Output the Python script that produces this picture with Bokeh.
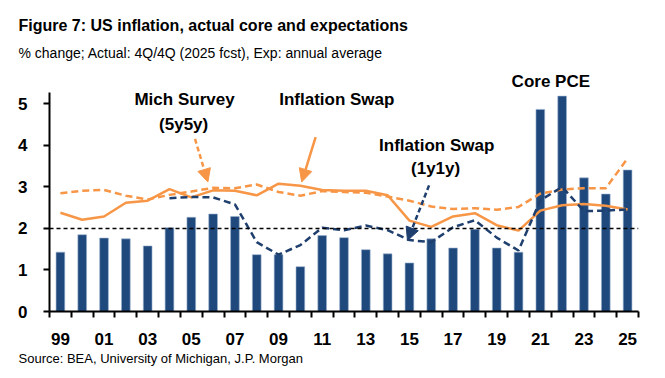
from bokeh.plotting import figure
from bokeh.models import Range1d, FixedTicker, Label, Arrow, NormalHead, Span, Title
from bokeh.embed import file_html
from bokeh.resources import INLINE

years = ["99", "00", "01", "02", "03", "04", "05", "06", "07", "08", "09", "10", "11", "12",
         "13", "14", "15", "16", "17", "18", "19", "20", "21", "22", "23", "24", "25"]
core_pce = [1.43, 1.85, 1.77, 1.75, 1.58, 2.02, 2.27, 2.35, 2.29, 1.37, 1.37, 1.08, 1.83, 1.78,
            1.49, 1.39, 1.17, 1.75, 1.53, 1.98, 1.53, 1.43, 4.87, 5.19, 3.22, 2.83, 3.41]
mich_5y5y = [2.85, 2.91, 2.93, 2.79, 2.70, 2.81, 2.89, 2.98, 2.97, 3.06, 2.88, 2.79, 2.90, 2.88,
             2.86, 2.77, 2.67, 2.53, 2.47, 2.49, 2.45, 2.52, 2.84, 2.94, 2.97, 2.97, 3.69]
swap_5y5y = [2.38, 2.21, 2.29, 2.62, 2.67, 2.95, 2.75, 2.92, 2.91, 2.80, 3.08, 3.03, 2.93, 2.91,
             2.91, 2.80, 2.19, 2.04, 2.29, 2.37, 2.08, 1.95, 2.43, 2.56, 2.59, 2.55, 2.46]
swap_1y1y_years = ["04", "05", "06", "07", "08", "09", "10", "11", "12", "13", "14", "15", "16",
                   "17", "18", "19", "20", "21", "22", "23", "24", "25"]
swap_1y1y = [2.73, 2.76, 2.75, 2.58, 1.67, 1.37, 1.60, 2.02, 1.96, 2.07, 1.96, 1.72, 1.67,
             2.03, 2.20, 1.78, 1.47, 2.68, 3.00, 2.42, 2.43, 2.46]
y_ticks = [0, 1, 2, 3, 4, 5]
target = 2

NAVY = "#1F497D"
ORANGE = "#F79646"
LINE_NAVY = "#1F3F6E"
FONT = "Liberation Sans"

xi = list(range(len(years)))
xi_1y1y = [years.index(y) for y in swap_1y1y_years]

p = figure(width=665, height=378, output_backend="svg", toolbar_location=None,
           x_range=Range1d(-0.5, len(years) - 0.5), y_range=Range1d(0, 5.807),
           min_border_left=49, min_border_right=27, min_border_top=70, min_border_bottom=67)
p.outline_line_color = None
p.grid.grid_line_color = None
p.background_fill_color = "white"
p.border_fill_color = "white"

p.vbar(x=xi, top=core_pce, width=0.4, fill_color=NAVY, line_color="#9DB3CF", line_width=0.6)
p.add_layout(Span(location=target, dimension="width", line_color="black",
                  line_dash="4 3", line_width=1.5))
p.line(xi, mich_5y5y, line_color=ORANGE, line_width=2.5, line_dash="7 4")
p.line(xi, swap_5y5y, line_color=ORANGE, line_width=2.5)
p.line(xi_1y1y, swap_1y1y, line_color=LINE_NAVY, line_width=2.5, line_dash="7 4")

# axes
xa = p.xaxis[0]
xa.ticker = FixedTicker(ticks=xi[::2], minor_ticks=[i - 0.5 for i in range(len(years) + 1)])
xa.major_label_overrides = {i: years[i] for i in xi[::2]}
xa.major_tick_line_color = None
xa.minor_tick_line_color = "black"
xa.minor_tick_line_width = 2
xa.minor_tick_out = 6
xa.minor_tick_in = 0
xa.axis_line_width = 2
xa.major_label_standoff = 15
xa.major_label_text_font = FONT
xa.major_label_text_font_style = "bold"
xa.major_label_text_font_size = "17px"
xa.major_label_text_color = "black"

ya = p.yaxis[0]
ya.ticker = FixedTicker(ticks=y_ticks)
ya.bounds = (0, 5.28)
ya.major_tick_out = 6
ya.major_tick_in = 0
ya.major_tick_line_width = 2
ya.minor_tick_line_color = None
ya.axis_line_width = 2
ya.major_label_standoff = 16
ya.major_label_text_font = FONT
ya.major_label_text_font_style = "bold"
ya.major_label_text_font_size = "17px"
ya.major_label_text_color = "black"


def lab(x, y, text, size, bold=True, align="center", baseline="middle"):
    p.add_layout(Label(x=x, y=y, text=text, text_font=FONT, text_font_size=size,
                       text_font_style="bold" if bold else "normal", text_align=align,
                       text_baseline=baseline, text_color="black"))


lab(5.69, 5.10, "Mich Survey", "17px")
lab(5.65, 4.50, "(5y5y)", "17px")
lab(12.67, 5.10, "Inflation Swap", "17px")
lab(17.25, 4.00, "Inflation Swap", "17px")
lab(17.20, 3.44, "(1y1y)", "17px")
lab(22.48, 5.55, "Core PCE", "17px")

p.add_layout(Title(text="% change; Actual: 4Q/4Q (2025 fcst), Exp: annual average", align="left",
                   text_font=FONT, text_font_size="14px", text_font_style="normal",
                   text_color="black", offset=-31, standoff=16, vertical_align="top"), "above")
p.add_layout(Title(text="Figure 7: US inflation, actual core and expectations", align="left",
                   text_font=FONT, text_font_size="16px", text_font_style="bold",
                   text_color="black", offset=-31, standoff=5), "above")
p.add_layout(Title(text="Source: BEA, University of Michigan, J.P. Morgan", align="left",
                   text_font=FONT, text_font_size="13px", text_font_style="normal",
                   text_color="black", offset=-31, standoff=2), "below")

p.add_layout(Arrow(x_start=6.17, y_start=4.16, x_end=6.76, y_end=3.12,
                   line_color=ORANGE, line_width=2.5, line_dash="5 3",
                   end=NormalHead(size=13, fill_color=ORANGE, line_color=ORANGE)))
p.add_layout(Arrow(x_start=11.70, y_start=4.20, x_end=11.06, y_end=3.12,
                   line_color=ORANGE, line_width=2.5,
                   end=NormalHead(size=13, fill_color=ORANGE, line_color=ORANGE)))
p.add_layout(Arrow(x_start=16.90, y_start=3.04, x_end=15.91, y_end=1.71,
                   line_color=LINE_NAVY, line_width=2.5, line_dash="5 3",
                   end=NormalHead(size=13, fill_color=LINE_NAVY, line_color=LINE_NAVY)))

open("out.html", "w").write(file_html(p, INLINE))
